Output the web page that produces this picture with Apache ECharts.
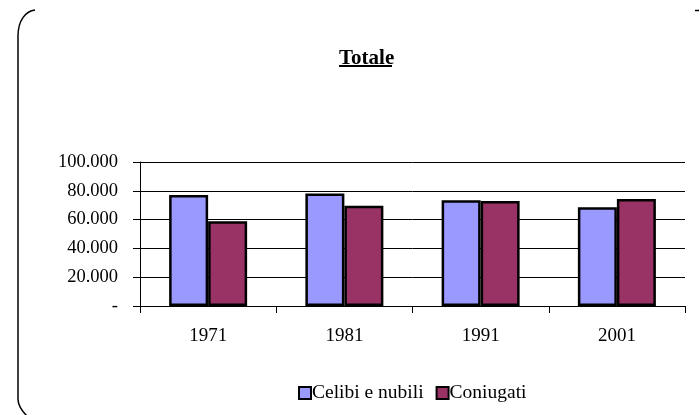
<!DOCTYPE html>
<html>
<head>
<meta charset="utf-8">
<script src="https://cdn.jsdelivr.net/npm/echarts@6/dist/echarts.min.js"></script>
<style>
html,body{margin:0;padding:0;background:#fff;}
#chart{width:700px;height:415px;}
</style>
</head>
<body>
<div id="chart"></div>
<script>
var categories = ['1971', '1981', '1991', '2001'];
var celibiNubili = [77100, 78200, 73400, 68500];
var coniugati = [58800, 69600, 72900, 74300];
var yTickLabels = ['-', '20.000', '40.000', '60.000', '80.000', '100.000'];
var seriesNames = ['Celibi e nubili', 'Coniugati'];
var titleText = 'Totale';

var FONT = '"Liberation Serif", "Times New Roman", serif';
var chart = echarts.init(document.getElementById('chart'));
chart.setOption({
  animation: false,
  backgroundColor: '#fff',
  title: {
    text: titleText,
    left: 334,
    top: 43,
    textStyle: { fontFamily: FONT, fontSize: 21, fontWeight: 'bold', color: '#000' }
  },
  legend: {
    data: seriesNames,
    left: 293,
    top: 378,
    itemWidth: 12,
    itemHeight: 12,
    itemGap: 12,
    icon: 'rect',
    textStyle: { fontFamily: FONT, fontSize: 19.5, color: '#000', padding: [0, 0, 0, -4] },
    itemStyle: { borderColor: '#000', borderWidth: 2 }
  },
  grid: { left: 140, right: 15, top: 162, bottom: 109, containLabel: false },
  xAxis: {
    type: 'category',
    data: categories,
    axisLine: { lineStyle: { color: '#000', width: 1 } },
    axisTick: { show: true, length: 7, inside: false, lineStyle: { color: '#000' } },
    axisLabel: { fontFamily: FONT, fontSize: 19, color: '#000', margin: 21 }
  },
  yAxis: {
    type: 'value',
    min: 0,
    max: 100000,
    interval: 20000,
    axisLine: { show: true, lineStyle: { color: '#000', width: 1 } },
    axisTick: { show: true, length: 7, lineStyle: { color: '#000' } },
    splitLine: { show: true, lineStyle: { color: '#000', width: 1 } },
    axisLabel: {
      fontFamily: FONT, fontSize: 18.5, color: '#000', margin: 22,
      formatter: function (v) { return yTickLabels[Math.round(v / 20000)]; }
    }
  },
  series: [
    {
      name: seriesNames[0],
      type: 'bar',
      data: celibiNubili,
      barWidth: 39,
      barGap: '0%',
      itemStyle: { color: '#9999FF', borderColor: '#000', borderWidth: 2.5 }
    },
    {
      name: seriesNames[1],
      type: 'bar',
      data: coniugati,
      barWidth: 39,
      barGap: '0%',
      itemStyle: { color: '#993366', borderColor: '#000', borderWidth: 2.5 }
    }
  ],
  graphic: [
    { type: 'line', shape: { x1: 339, y1: 66, x2: 392, y2: 66 }, style: { stroke: '#000', lineWidth: 2 } },
    { type: 'bezierCurve', shape: { x1: 18, y1: 36, cpx1: 18, cpy1: 20, cpx2: 26, cpy2: 11, x2: 35, y2: 10 }, style: { stroke: '#000', lineWidth: 1.5, fill: null } },
    { type: 'line', shape: { x1: 18, y1: 36, x2: 18, y2: 399 }, style: { stroke: '#000', lineWidth: 1.5 } },
    { type: 'bezierCurve', shape: { x1: 18, y1: 399, cpx1: 18, cpy1: 406, cpx2: 22, cpy2: 411, x2: 27, y2: 416 }, style: { stroke: '#000', lineWidth: 1.5, fill: null } },
    { type: 'line', shape: { x1: 695, y1: 10.5, x2: 699, y2: 10.5 }, style: { stroke: '#000', lineWidth: 1.5 } }
  ]
});
</script>
</body>
</html>
